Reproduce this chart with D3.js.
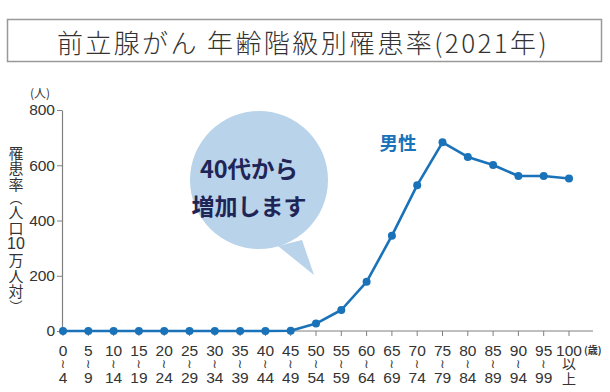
<!DOCTYPE html>
<html>
<head>
<meta charset="utf-8">
<script src="https://cdn.jsdelivr.net/npm/d3@7"></script>
<style>
  body { margin: 0; background: #fff; }
  text { font-family: "Noto Sans CJK JP", "Noto Sans", sans-serif; fill: #333; }
</style>
</head>
<body>
<div class="chart"></div>
<script>
var svgWidth = 610;
var svgHeight = 392;

// age groups (top / bottom of the stacked label)
var ageFrom = ["0","5","10","15","20","25","30","35","40","45","50","55","60","65","70","75","80","85","90","95","100"];
var ageTo   = ["4","9","14","19","24","29","34","39","44","49","54","59","64","69","74","79","84","89","94","99","上"];
// incidence per 100k, men
var rates = [0,0,0,0,0,0,0,0,0,1,27,76,178,345,528,683,630,601,561,561,552];
var yTicks = [0, 200, 400, 600, 800];
var yLabel = ["罹","患","率","︵","人","口","10","万","人","対","︶"];

var svg = d3.select(".chart").append("svg")
  .attr("width", svgWidth)
  .attr("height", svgHeight);

// title box
svg.append("rect")
  .attr("x", 7.5).attr("y", 19.5)
  .attr("width", 594).attr("height", 42)
  .attr("fill", "#fff")
  .attr("stroke", "#999")
  .attr("stroke-width", 1.5);

svg.append("text")
  .attr("x", 303).attr("y", 41)
  .attr("text-anchor", "middle")
  .attr("dominant-baseline", "central")
  .style("font-size", "26px")
  .style("font-weight", 300)
  .style("letter-spacing", "2.4px")
  .text("前立腺がん 年齢階級別罹患率(2021年)");

// scales
var x = d3.scaleLinear().domain([0, ageFrom.length - 1]).range([63, 569]);
var y = d3.scaleLinear().domain([0, 800]).range([331, 110]);

var axisColor = "#808080";
var numFont = "'Liberation Sans', 'Noto Sans', sans-serif";

// y axis
var yAxis = svg.append("g")
  .attr("transform", "translate(62,0)")
  .call(d3.axisLeft(y).tickValues(yTicks).tickSize(5).tickSizeOuter(0));
yAxis.select(".domain").attr("stroke", axisColor).attr("stroke-width", 1.2);
yAxis.selectAll(".tick line").attr("stroke", axisColor);
yAxis.selectAll(".tick text")
  .attr("x", -7)
  .style("font-family", numFont)
  .style("font-size", "15.5px")
  .attr("fill", "#333");

// x axis line + ticks
svg.append("line")
  .attr("x1", 62).attr("x2", 593)
  .attr("y1", 331).attr("y2", 331)
  .attr("stroke", axisColor).attr("stroke-width", 1.2);

var xTicks = svg.append("g").selectAll("g")
  .data(ageFrom)
  .enter()
  .append("g")
  .attr("transform", (d, i) => `translate(${x(i)},331)`);

xTicks.append("line")
  .attr("y1", 0).attr("y2", 5)
  .attr("stroke", axisColor);

// stacked label: from / wave (or 以) / to, one text per tick
var xLab = xTicks.append("text")
  .attr("text-anchor", "middle")
  .style("font-family", numFont)
  .style("font-size", "15.5px");

xLab.append("tspan")
  .attr("x", 0).attr("y", 24.5)
  .text(d => d);

xLab.append("tspan")
  .attr("x", 0)
  .attr("y", (d, i) => i === 20 ? 37.5 : 36.5)
  .style("font-family", (d, i) => i === 20 ? "'Noto Sans CJK JP'" : "'DejaVu Sans'")
  .style("font-size", (d, i) => i === 20 ? "14px" : "12.5px")
  .text((d, i) => i === 20 ? "以" : "≀");

xLab.append("tspan")
  .attr("x", 0)
  .attr("y", (d, i) => i === 20 ? 53 : 52)
  .style("font-family", (d, i) => i === 20 ? "'Noto Sans CJK JP'" : null)
  .style("font-size", (d, i) => i === 20 ? "14px" : null)
  .text((d, i) => ageTo[i]);

// unit labels
svg.append("text")
  .attr("x", 584).attr("y", 354)
  .style("font-size", "10px")
  .style("font-weight", 700)
  .text("(歳)");

svg.append("text")
  .attr("x", 40).attr("y", 98)
  .attr("text-anchor", "middle")
  .style("font-size", "12px")
  .text("(人)");

// vertical y label, one tspan per line
var chunkH = d => d === "10" ? 17 : (d === "︵" || d === "︶") ? 13 : 15.5;
var yPos = [];
yLabel.reduce((top, d) => { yPos.push(top + chunkH(d) / 2); return top + chunkH(d); }, 144);

svg.append("text")
  .attr("text-anchor", "middle")
  .attr("dominant-baseline", "central")
  .style("font-size", "15px")
  .selectAll("tspan")
  .data(yLabel)
  .enter()
  .append("tspan")
  .attr("x", 16)
  .attr("y", (d, i) => yPos[i])
  .style("font-size", d => d === "10" ? "16px" : (d === "︵" || d === "︶") ? "13px" : null)
  .style("font-family", d => d === "10" ? numFont : null)
  .text(d => d);

// speech bubble
var bubbleFill = "#b8d3ea";
var bubble = svg.append("g");
bubble.append("path")
  .attr("d", "M278,246 L314,275 L302,240 Z")
  .attr("fill", bubbleFill);
bubble.append("circle")
  .attr("cx", 259).attr("cy", 180).attr("r", 69)
  .attr("fill", bubbleFill);
bubble.append("text")
  .attr("x", 249).attr("y", 168)
  .attr("text-anchor", "middle")
  .attr("dominant-baseline", "central")
  .style("font-size", "23.5px")
  .style("font-weight", 700)
  .style("fill", "#1f2557")
  .text("40代から");
bubble.append("text")
  .attr("x", 249).attr("y", 205)
  .attr("text-anchor", "middle")
  .attr("dominant-baseline", "central")
  .style("font-size", "23px")
  .style("font-weight", 700)
  .style("fill", "#1f2557")
  .text("増加します");

// line
var lineColor = "#1a72b8";
var line = d3.line()
  .x((d, i) => x(i))
  .y(d => y(d));

svg.append("path")
  .datum(rates)
  .attr("d", line)
  .attr("fill", "none")
  .attr("stroke", lineColor)
  .attr("stroke-width", 2.6)
  .attr("stroke-linejoin", "round");

svg.append("g").selectAll("circle")
  .data(rates)
  .enter()
  .append("circle")
  .attr("cx", (d, i) => x(i))
  .attr("cy", d => y(d))
  .attr("r", 4)
  .attr("fill", lineColor);

svg.append("text")
  .attr("x", 398).attr("y", 142)
  .attr("text-anchor", "middle")
  .attr("dominant-baseline", "central")
  .style("font-size", "18.5px")
  .style("font-weight", 700)
  .style("fill", lineColor)
  .text("男性");
</script>
</body>
</html>
